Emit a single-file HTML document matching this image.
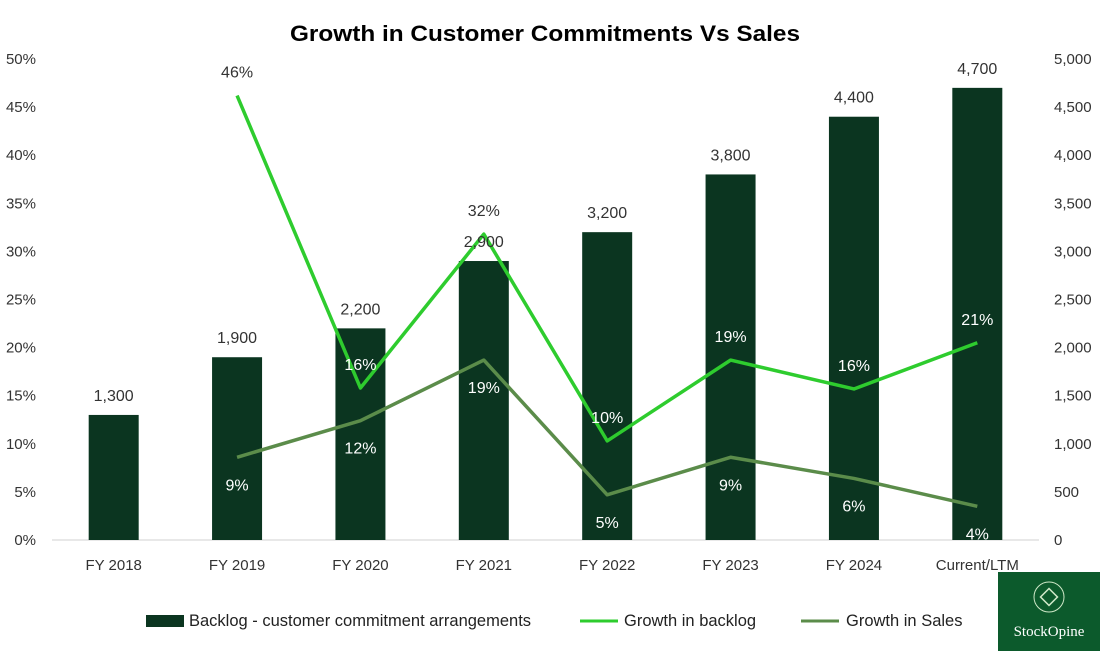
<!DOCTYPE html>
<html><head><meta charset="utf-8"><style>
body{margin:0;background:#fff;font-family:"Liberation Sans",Arial,sans-serif;}
svg text{font-family:"Liberation Sans",Arial,sans-serif;}
</style></head><body>
<svg id="c" width="1100" height="651" viewBox="0 0 1100 651">
<text x="545" y="41" text-anchor="middle" font-size="22" font-weight="bold" fill="#000" textLength="510" lengthAdjust="spacingAndGlyphs">Growth in Customer Commitments Vs Sales</text>
<g id="axes"></g><g id="bars"></g><g id="lines"></g><g id="labels"></g>
<g>
<rect x="146" y="615" width="38" height="12" fill="#0b3520"/>
<text x="189" y="626" font-size="16.5" fill="#222">Backlog - customer commitment arrangements</text>
<line x1="580" y1="621" x2="618" y2="621" stroke="#2ecc2e" stroke-width="3"/>
<text x="624" y="626" font-size="16.5" fill="#222">Growth in backlog</text>
<line x1="801" y1="621" x2="839" y2="621" stroke="#5b8c4a" stroke-width="3"/>
<text x="846" y="626" font-size="16.5" fill="#222">Growth in Sales</text>
</g>
<g>
<rect x="998" y="572" width="102" height="79" fill="#0c5a2c"/>
<circle cx="1049" cy="597" r="15" fill="none" stroke="#cfe8c8" stroke-width="1"/>
<rect x="1043" y="591" width="12" height="12" fill="none" stroke="#cfe8c8" stroke-width="1.5" transform="rotate(45 1049 597)"/>
<text x="1049" y="636" text-anchor="middle" font-size="15" fill="#fff" style="font-family:'Liberation Serif',serif">StockOpine</text>
</g>
</svg>
<script>
const categories=["FY 2018","FY 2019","FY 2020","FY 2021","FY 2022","FY 2023","FY 2024","Current/LTM"];
const backlog=[1300,1900,2200,2900,3200,3800,4400,4700];
const growthBacklog=[null,46.2,15.8,31.8,10.3,18.7,15.7,20.5];
const growthSales=[null,8.6,12.4,18.7,4.7,8.6,6.4,3.5];
const backlogLabels=["","46%","16%","32%","10%","19%","16%","21%"];
const salesLabels=["","9%","12%","19%","5%","9%","6%","4%"];
const leftTicks=[0,5,10,15,20,25,30,35,40,45,50];
const rightTicks=[0,500,1000,1500,2000,2500,3000,3500,4000,4500,5000];
const NS="http://www.w3.org/2000/svg";
const x0=52,x1=1039,yB=540,yT=59;
const step=(x1-x0)/categories.length;
const xc=i=>x0+step*(i+0.5);
const yL=v=>yB-(v/50)*(yB-yT);
const yR=v=>yB-(v/5000)*(yB-yT);
function mk(tag,attrs,parent,txt){const e=document.createElementNS(NS,tag);for(const k in attrs)e.setAttribute(k,attrs[k]);if(txt!==undefined)e.textContent=txt;document.getElementById(parent).appendChild(e);return e;}
const fmt=n=>n.toLocaleString("en-US");
leftTicks.forEach(t=>{const e=mk("text",{x:36,y:yL(t)+5,"text-anchor":"end","font-size":15,fill:"#333"},"axes",t+"%");

});
rightTicks.forEach(t=>{const e=mk("text",{x:1054,y:yR(t)+5,"font-size":15,fill:"#333"},"axes",fmt(t));

});
const ax=mk("line",{x1:x0,x2:x1,y1:yB,y2:yB,stroke:"#d0d0d0","stroke-width":1},"axes");


categories.forEach((c,i)=>{const e=mk("text",{x:xc(i),y:570,"text-anchor":"middle","font-size":15,fill:"#333"},"axes",c);

});
const bw=50;
backlog.forEach((v,i)=>{const r=mk("rect",{x:xc(i)-bw/2,y:yR(v),width:bw,height:yB-yR(v),fill:"#0b3520"},"bars");


const t=mk("text",{x:xc(i),y:yR(v)-14,"text-anchor":"middle","font-size":16,fill:"#333"},"labels",fmt(v));

});
function line(arr,color,name){const pts=[];arr.forEach((v,i)=>{if(v!==null)pts.push(xc(i)+","+yL(v));});
const p=mk("polyline",{points:pts.join(" "),fill:"none",stroke:color,"stroke-width":3.5,"stroke-linejoin":"round"},"lines");

}
line(growthBacklog,"#2ecc2e","growth-in-backlog-line");
line(growthSales,"#5b8c4a","growth-in-sales-line");
function labels(arr,txt,dy,name){arr.forEach((v,i)=>{if(v===null)return;const y=yL(v)+dy;const inside=y-6>yR(backlog[i]);
const t=mk("text",{x:xc(i),y:y,"text-anchor":"middle","font-size":16,fill:inside?"#fff":"#333"},"labels",txt[i]);

});}
labels(growthBacklog,backlogLabels,-18,"growth-backlog-label");
labels(growthSales,salesLabels,33,"growth-sales-label");
</script>
</body></html>
